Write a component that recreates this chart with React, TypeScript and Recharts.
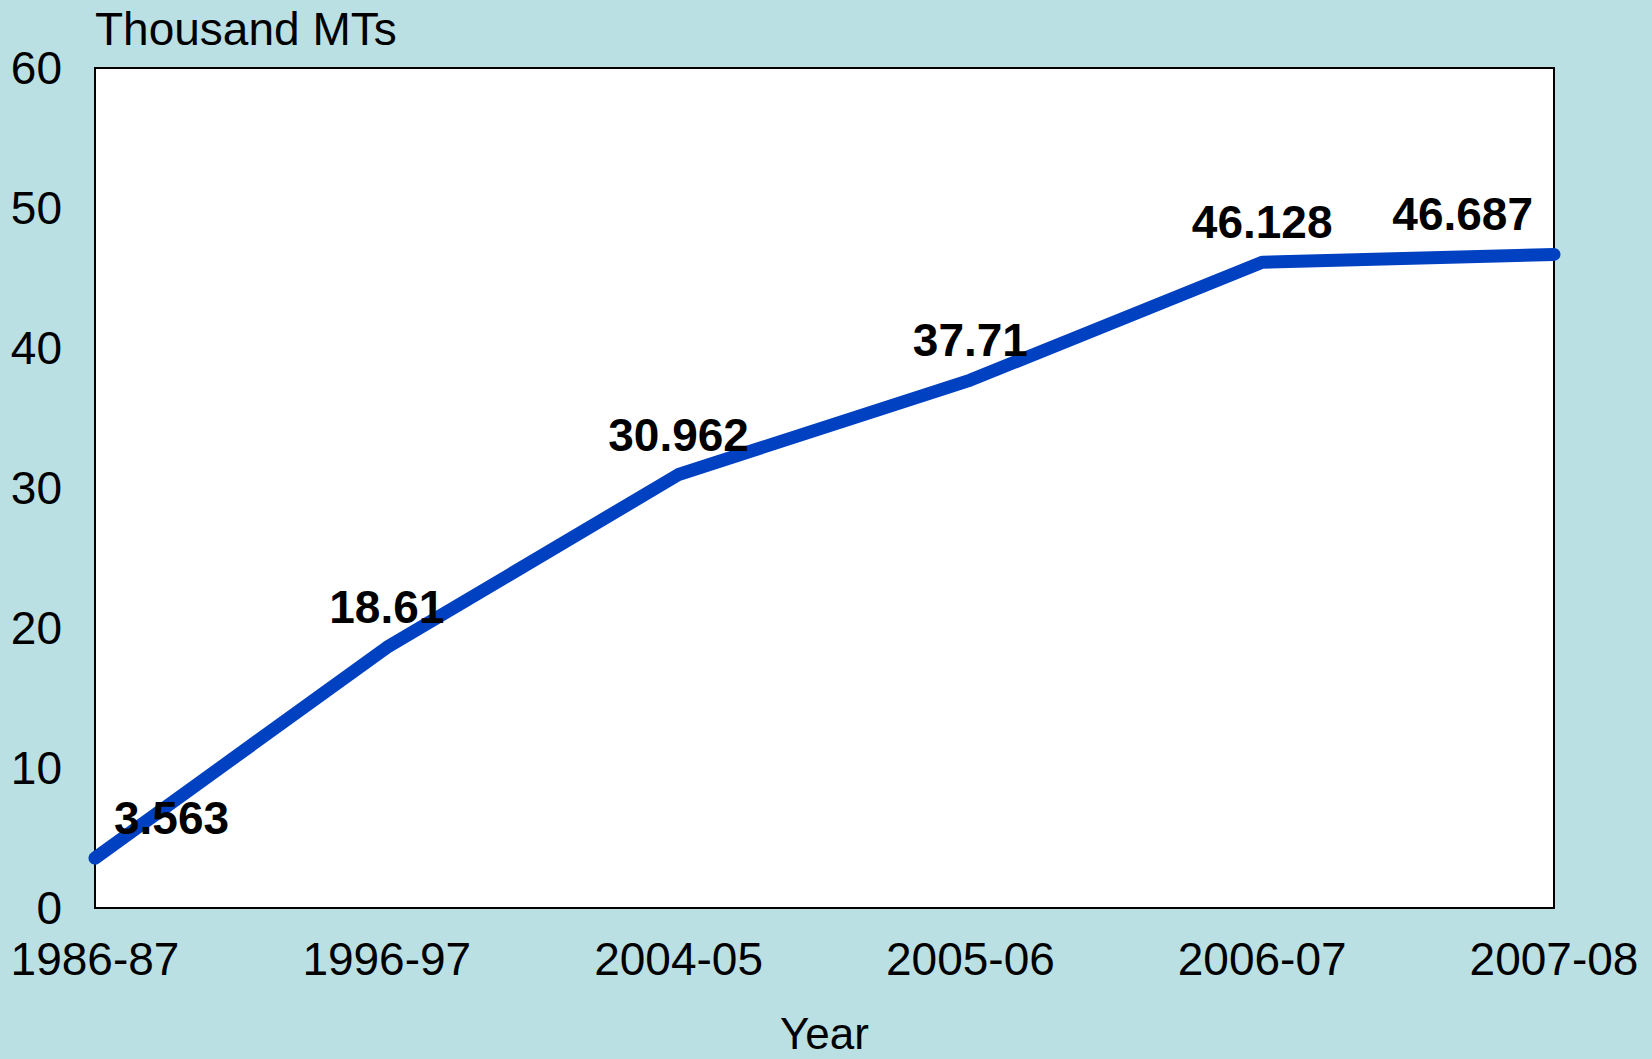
import React from 'react';
import { LineChart, Line, XAxis, YAxis, ReferenceArea } from 'recharts';

const years = ['1986-87', '1996-97', '2004-05', '2005-06', '2006-07', '2007-08'];
const production = [3.563, 18.61, 30.962, 37.71, 46.128, 46.687];
const yTicks = [0, 10, 20, 30, 40, 50, 60];

const FONT = '"Liberation Sans", Arial, Helvetica, sans-serif';
const BG = '#bae0e3';
const LINE = '#0041c2';

const data = years.map((year, i) => ({ year, value: production[i] }));

// value labels sit above each point; the first and last are nudged inward
const ValueLabel = (props: any) => {
  const { x, y, value, index } = props;
  const last = years.length - 1;
  let anchor: 'start' | 'middle' | 'end' = 'middle';
  let lx = x;
  if (index === 0) {
    anchor = 'start';
    lx = x + 19;
  } else if (index === last) {
    anchor = 'end';
    lx = x - 21;
  }
  return (
    <text
      x={lx}
      y={y - 24}
      textAnchor={anchor}
      fontFamily={FONT}
      fontWeight="bold"
      fontSize={46}
      fill="#000"
    >
      {value}
    </text>
  );
};

const UnitLabel = (props: any) => {
  const { viewBox } = props;
  return (
    <text
      x={viewBox.x + viewBox.width}
      y={viewBox.y - 23}
      fontFamily={FONT}
      fontSize={46}
      fill="#000"
    >
      Thousand MTs
    </text>
  );
};

export default function App() {
  return (
    <div style={{ position: 'absolute', left: 0, top: 0, width: 1652, height: 1059, background: BG }}>
      <LineChart
        width={1652}
        height={1059}
        data={data}
        margin={{ top: 68, right: 98, left: 0, bottom: 0 }}
      >
        <ReferenceArea
          x1={years[0]}
          x2={years[years.length - 1]}
          y1={0}
          y2={60}
          fill="#ffffff"
          fillOpacity={1}
          stroke="#000"
          strokeWidth={2}
          ifOverflow="extendDomain"
        />
        <XAxis
          dataKey="year"
          height={151}
          padding={{ left: 0, right: 0 }}
          axisLine={false}
          tickLine={false}
          tickSize={0}
          tickMargin={34}
          interval={0}
          tick={{ fontFamily: FONT, fontSize: 46, fill: '#000' }}
          label={{ value: 'Year', position: 'insideBottom', offset: 10, fontFamily: FONT, fontSize: 44, fill: '#000' }}
        />
        <YAxis
          width={95}
          domain={[0, 60]}
          ticks={yTicks}
          axisLine={false}
          tickLine={false}
          tickSize={0}
          tickMargin={33}
          tick={{ fontFamily: FONT, fontSize: 46, fill: '#000' }}
          label={<UnitLabel />}
        />
        <Line
          type="linear"
          dataKey="value"
          stroke={LINE}
          strokeWidth={13}
          strokeLinecap="round"
          strokeLinejoin="round"
          dot={false}
          activeDot={false}
          label={<ValueLabel />}
          isAnimationActive={false}
        />
      </LineChart>
    </div>
  );
}
